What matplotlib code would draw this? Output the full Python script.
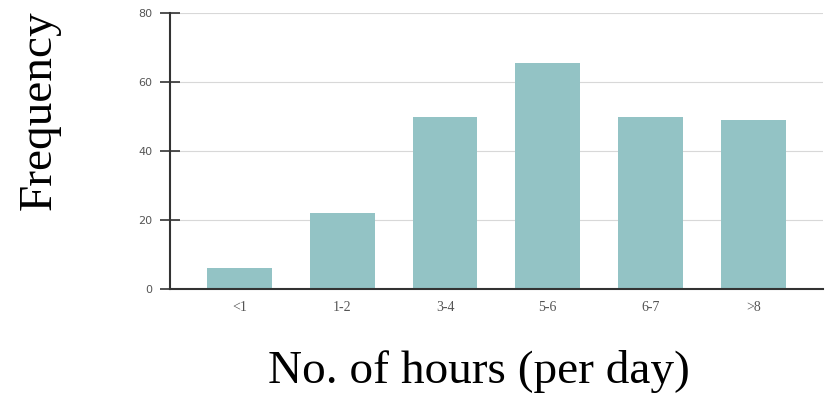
import matplotlib.pyplot as plt

categories = ['<1', '1-2', '3-4', '5-6', '6-7', '>8']
frequency = [6, 22, 50, 65.5, 50, 49]
y_ticks = [0, 20, 40, 60, 80]

fig = plt.figure(figsize=(8.33, 3.98), dpi=100)
ax = fig.add_axes([0.204, 0.274, 0.784, 0.693])

x = range(len(categories))
ax.bar(x, frequency, width=0.63, color='#93c3c5', zorder=2)

ax.set_xlim(-0.68, 5.68)
ax.set_ylim(0, 80)
ax.set_yticks(y_ticks)
ax.set_xticks(list(x))
ax.set_xticklabels(categories, fontfamily='Liberation Serif', fontsize=10, color='#555555')
ax.tick_params(axis='x', length=0, pad=9)
ax.tick_params(axis='y', labelsize=8, labelcolor='#555555', length=15, width=1.2,
               color='#333333', direction='inout', pad=5)

ax.grid(axis='y', color='#d8d8d8', lw=0.8, zorder=0)
for s in ['top', 'right']:
    ax.spines[s].set_visible(False)
ax.spines['left'].set_color('#333333')
ax.spines['left'].set_linewidth(1.5)
ax.spines['bottom'].set_color('#333333')
ax.spines['bottom'].set_linewidth(1.5)

fig.text(0.047, 0.724, 'Frequency', rotation=90, ha='center', va='center',
         fontfamily='Liberation Serif', fontsize=34)
fig.text(0.575, 0.067, 'No. of hours (per day)', ha='center', va='center',
         fontfamily='Liberation Serif', fontsize=34)

plt.savefig('out.png', dpi=100)
